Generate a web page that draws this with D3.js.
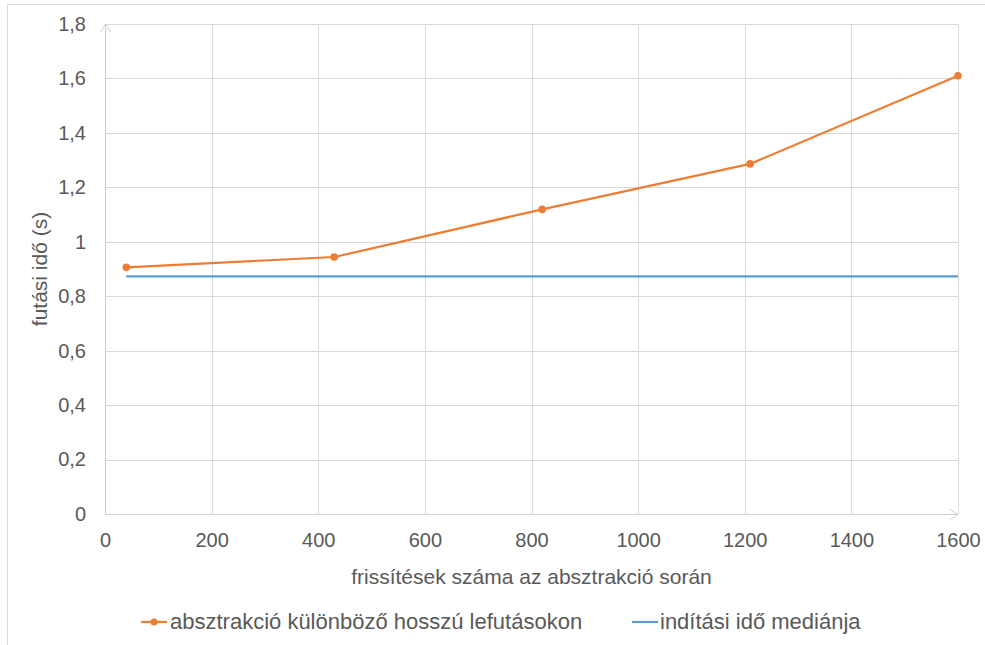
<!DOCTYPE html>
<html>
<head>
<meta charset="utf-8">
<script src="https://cdn.jsdelivr.net/npm/d3@7"></script>
<style>
  html, body { margin: 0; padding: 0; background: #fff; }
  svg { display: block; }
  text { font-family: "Liberation Sans", Arial, sans-serif; fill: #595959; }
</style>
</head>
<body>
<svg id="chart" width="985" height="645"></svg>
<script>
// ---- data ----
const frissitesek = [40, 430, 820, 1210, 1600];
const absztrakcioIdo = [0.906, 0.944, 1.119, 1.286, 1.61];
const inditasiMedian = 0.873;
const xTicks = [0, 200, 400, 600, 800, 1000, 1200, 1400, 1600];
const yTicks = [0, 0.2, 0.4, 0.6, 0.8, 1, 1.2, 1.4, 1.6, 1.8];
const seriesNames = ["absztrakció különböző hosszú lefutásokon", "indítási idő mediánja"];
const xTitle = "frissítések száma az absztrakció során";
const yTitle = "futási idő (s)";

const W = 985, H = 645;
const plot = { left: 105, right: 958, top: 24, bottom: 514 };
const orange = "#ED7D31", blue = "#5B9BD5", grid = "#d9d9d9";

const svg = d3.select("#chart");
svg.append("rect").attr("x", 7.5).attr("y", 4.5).attr("width", W - 4).attr("height", H)
  .attr("fill", "#fff").attr("stroke", "#d9d9d9");

const x = d3.scaleLinear().domain([0, 1600]).range([plot.left, plot.right]);
const y = d3.scaleLinear().domain([0, 1.8]).range([plot.bottom, plot.top]);

// grid
svg.append("g").selectAll("line").data(xTicks.slice(1)).join("line")
  .attr("x1", d => Math.round(x(d)) + 0.5).attr("x2", d => Math.round(x(d)) + 0.5)
  .attr("y1", plot.top).attr("y2", plot.bottom)
  .attr("stroke", grid).attr("stroke-width", 1);
svg.append("g").selectAll("line").data(yTicks.slice(1)).join("line")
  .attr("y1", d => Math.round(y(d)) + 0.5).attr("y2", d => Math.round(y(d)) + 0.5)
  .attr("x1", plot.left).attr("x2", plot.right)
  .attr("stroke", grid).attr("stroke-width", 1);

// axes with arrows
const axisColor = "#d0d0d0";
svg.append("line").attr("x1", plot.left + 0.5).attr("x2", plot.left + 0.5)
  .attr("y1", plot.bottom).attr("y2", plot.top).attr("stroke", axisColor);
svg.append("path").attr("d", `M${plot.left - 4.5},${plot.top + 8} L${plot.left + 0.5},${plot.top} L${plot.left + 5.5},${plot.top + 8}`)
  .attr("fill", "none").attr("stroke", axisColor);
svg.append("line").attr("x1", plot.left).attr("x2", plot.right)
  .attr("y1", plot.bottom + 0.5).attr("y2", plot.bottom + 0.5).attr("stroke", axisColor);
svg.append("path").attr("d", `M${plot.right - 8},${plot.bottom - 4.5} L${plot.right},${plot.bottom + 0.5} L${plot.right - 8},${plot.bottom + 5.5}`)
  .attr("fill", "none").attr("stroke", axisColor);

// tick labels via d3 axes
const fmtY = d => d3.format(".1f")(d).replace(/\.0$/, "").replace(".", ",");
const xAxis = svg.append("g").attr("transform", `translate(0,${plot.bottom})`)
  .call(d3.axisBottom(x).tickValues(xTicks).tickSize(0).tickPadding(19).tickFormat(d3.format("d")));
const yAxis = svg.append("g").attr("transform", `translate(${plot.left},0)`)
  .call(d3.axisLeft(y).tickValues(yTicks).tickSize(0).tickPadding(19).tickFormat(fmtY));
[xAxis, yAxis].forEach(a => {
  a.select(".domain").remove();
  a.selectAll("text").attr("font-size", 20).attr("fill", "#595959")
    .attr("font-family", "'Liberation Sans', Arial, sans-serif");
});

// axis titles
svg.append("text").attr("x", (plot.left + plot.right) / 2).attr("y", 584)
  .attr("text-anchor", "middle").attr("font-size", 21).text(xTitle);
svg.append("text").attr("transform", `translate(47,${(plot.top + plot.bottom) / 2}) rotate(-90)`)
  .attr("text-anchor", "middle").attr("font-size", 21).text(yTitle);

// series
svg.append("line")
  .attr("x1", x(frissitesek[0])).attr("x2", x(frissitesek[frissitesek.length - 1]))
  .attr("y1", y(inditasiMedian)).attr("y2", y(inditasiMedian))
  .attr("stroke", blue).attr("stroke-width", 2.2);

const pts = frissitesek.map((f, i) => [f, absztrakcioIdo[i]]);
svg.append("path").datum(pts)
  .attr("d", d3.line().x(d => x(d[0])).y(d => y(d[1])))
  .attr("fill", "none").attr("stroke", orange).attr("stroke-width", 2.2).attr("stroke-linejoin", "round");
svg.append("g").selectAll("circle").data(pts).join("circle")
  .attr("cx", d => x(d[0])).attr("cy", d => y(d[1])).attr("r", 3.8).attr("fill", orange);

// legend
const leg = svg.append("g");
leg.append("line").attr("x1", 141).attr("x2", 167).attr("y1", 622).attr("y2", 622)
  .attr("stroke", orange).attr("stroke-width", 2.2);
leg.append("circle").attr("cx", 154).attr("cy", 622).attr("r", 3.5).attr("fill", orange);
leg.append("text").attr("x", 170).attr("y", 629).attr("font-size", 22).text(seriesNames[0]);
leg.append("line").attr("x1", 632).attr("x2", 658).attr("y1", 622).attr("y2", 622)
  .attr("stroke", blue).attr("stroke-width", 2.2);
leg.append("text").attr("x", 660).attr("y", 629).attr("font-size", 22).text(seriesNames[1]);
</script>
</body>
</html>
